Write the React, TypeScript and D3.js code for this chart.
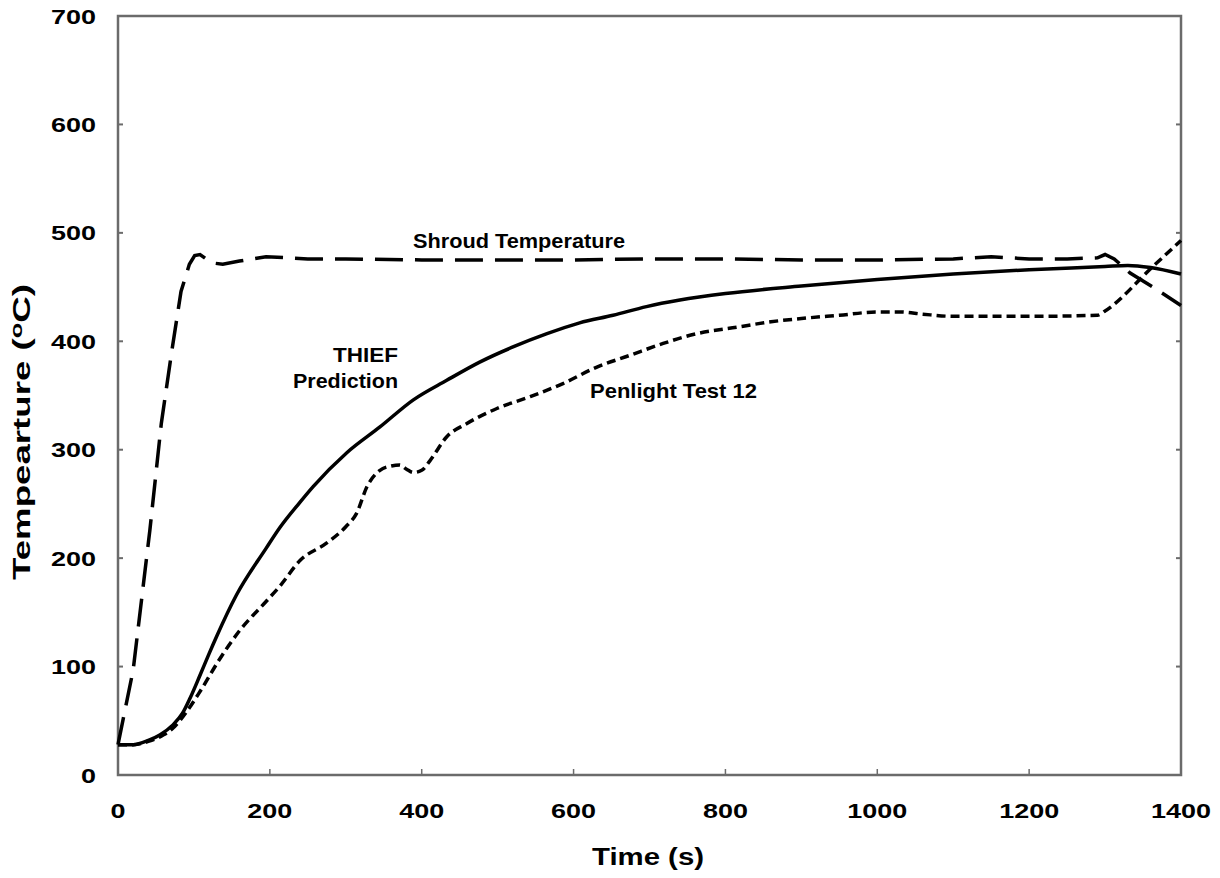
import React from "react";
import * as d3 from "d3";

const xTicks = [0, 200, 400, 600, 800, 1000, 1200, 1400];
const yTicks = [0, 100, 200, 300, 400, 500, 600, 700];

const shroudT = [0, 20, 42, 57, 70, 83, 94, 101, 108, 116, 127, 138, 160, 195, 250, 300, 400, 500, 600, 700, 800, 900, 1000, 1100, 1150, 1200, 1250, 1290, 1300, 1312, 1333, 1363, 1400];
const shroudV = [28, 97, 226, 324, 387, 446, 471, 479, 480, 476, 472, 471, 474, 478, 476, 476, 475, 475, 475, 476, 476, 475, 475, 476, 478, 476, 476, 477, 480, 476, 463, 450, 433];

const thiefT = [0, 20, 40, 55, 72, 85, 95, 108, 120, 130, 156, 195, 213, 239, 257, 301, 345, 389, 433, 477, 521, 565, 608, 652, 696, 740, 800, 900, 1000, 1100, 1200, 1300, 1330, 1360, 1400];
const thiefV = [28, 28, 32, 37, 46, 57, 71, 92, 112, 128, 166, 209, 228, 251, 266, 297, 321, 346, 364, 381, 395, 407, 417, 424, 432, 438, 444, 451, 457, 462, 466, 469, 470, 468, 462];

const penT = [0, 20, 40, 60, 75, 90, 108, 134, 160, 195, 213, 240, 275, 300, 314, 328, 345, 360, 371, 380, 389, 400, 411, 433, 459, 499, 543, 586, 630, 674, 718, 762, 815, 860, 900, 950, 1000, 1030, 1060, 1100, 1200, 1290, 1300, 1363, 1400];
const penV = [28, 28, 31, 37, 45, 58, 77, 107, 133, 160, 174, 198, 214, 229, 241, 266, 281, 285, 286, 282, 279, 281, 290, 312, 324, 338, 349, 361, 376, 387, 398, 407, 413, 418, 421, 424, 427, 427, 425, 423, 423, 424, 428, 469, 493];

const W = 1220;
const H = 878;
const left = 118, right = 1181, top = 16, bottom = 775;

export default function App() {
  const x = d3.scaleLinear().domain([0, 1400]).range([left, right]);
  const y = d3.scaleLinear().domain([0, 700]).range([bottom, top]);
  const line = d3.line<[number, number]>().x((d) => x(d[0])).y((d) => y(d[1])).curve(d3.curveMonotoneX);
  const zip = (a: number[], b: number[]) => a.map((t, i) => [t, b[i]] as [number, number]);
  const lineLin = d3.line<[number, number]>().x((d) => x(d[0])).y((d) => y(d[1]));

  const axisColor = "#6b6b6b";
  const font = "'Liberation Sans', Arial, sans-serif";
  const digitW = 15;

  return (
    <svg width={W} height={H} style={{ position: "absolute", left: 0, top: 0, background: "#fff" }}>
      {/* frame */}
      <rect x={left} y={top} width={right - left} height={bottom - top} fill="none" stroke={axisColor} strokeWidth={2.5} />
      {/* ticks */}
      {xTicks.map((t) => (
        <line key={"xt" + t} x1={x(t)} x2={x(t)} y1={bottom} y2={bottom - 6} stroke={axisColor} strokeWidth={1.5} />
      ))}
      {yTicks.map((t) => (
        <g key={"yt" + t}>
          <line x1={left} x2={left + 5} y1={y(t)} y2={y(t)} stroke={axisColor} strokeWidth={2} />
          <line x1={right} x2={right - 5} y1={y(t)} y2={y(t)} stroke={axisColor} strokeWidth={2} />
        </g>
      ))}
      {/* tick labels */}
      {xTicks.map((t) => {
        const s = String(t);
        return (
          <text key={"xl" + t} x={x(t)} y={818} textAnchor="middle" fontFamily={font} fontWeight="bold" fontSize={21}
            textLength={s.length * digitW} lengthAdjust="spacingAndGlyphs">
            {s}
          </text>
        );
      })}
      {yTicks.map((t) => {
        const s = String(t);
        return (
          <text key={"yl" + t} x={96} y={y(t) + 7.5} textAnchor="end" fontFamily={font} fontWeight="bold" fontSize={21}
            textLength={s.length * digitW} lengthAdjust="spacingAndGlyphs">
            {s}
          </text>
        );
      })}
      {/* axis titles */}
      <text x={648} y={865} textAnchor="middle" fontFamily={font} fontWeight="bold" fontSize={23}
        textLength={112} lengthAdjust="spacingAndGlyphs">
        Time (s)
      </text>
      <text transform="translate(30,432) rotate(-90)" textAnchor="middle" fontFamily={font} fontWeight="bold" fontSize={23}
        textLength={296} lengthAdjust="spacingAndGlyphs">
        Tempearture (<tspan dy={-8} fontSize={16}>o</tspan><tspan dy={8}>C)</tspan>
      </text>
      {/* series */}
      <path d={lineLin(zip(shroudT, shroudV)) || ""} fill="none" stroke="#000" strokeWidth={3.5} strokeDasharray="28,12" />
      <path d={line(zip(thiefT, thiefV)) || ""} fill="none" stroke="#000" strokeWidth={3.5} />
      <path d={line(zip(penT, penV)) || ""} fill="none" stroke="#000" strokeWidth={3.5} strokeDasharray="9,5" />
      {/* annotations */}
      <text x={413} y={248} fontFamily={font} fontWeight="bold" fontSize={21} textLength={212} lengthAdjust="spacingAndGlyphs">
        Shroud Temperature
      </text>
      <text x={398} y={362} textAnchor="end" fontFamily={font} fontWeight="bold" fontSize={21} textLength={65} lengthAdjust="spacingAndGlyphs">
        THIEF
      </text>
      <text x={398} y={388} textAnchor="end" fontFamily={font} fontWeight="bold" fontSize={21} textLength={105} lengthAdjust="spacingAndGlyphs">
        Prediction
      </text>
      <text x={590} y={398} fontFamily={font} fontWeight="bold" fontSize={21} textLength={167} lengthAdjust="spacingAndGlyphs">
        Penlight Test 12
      </text>
    </svg>
  );
}
